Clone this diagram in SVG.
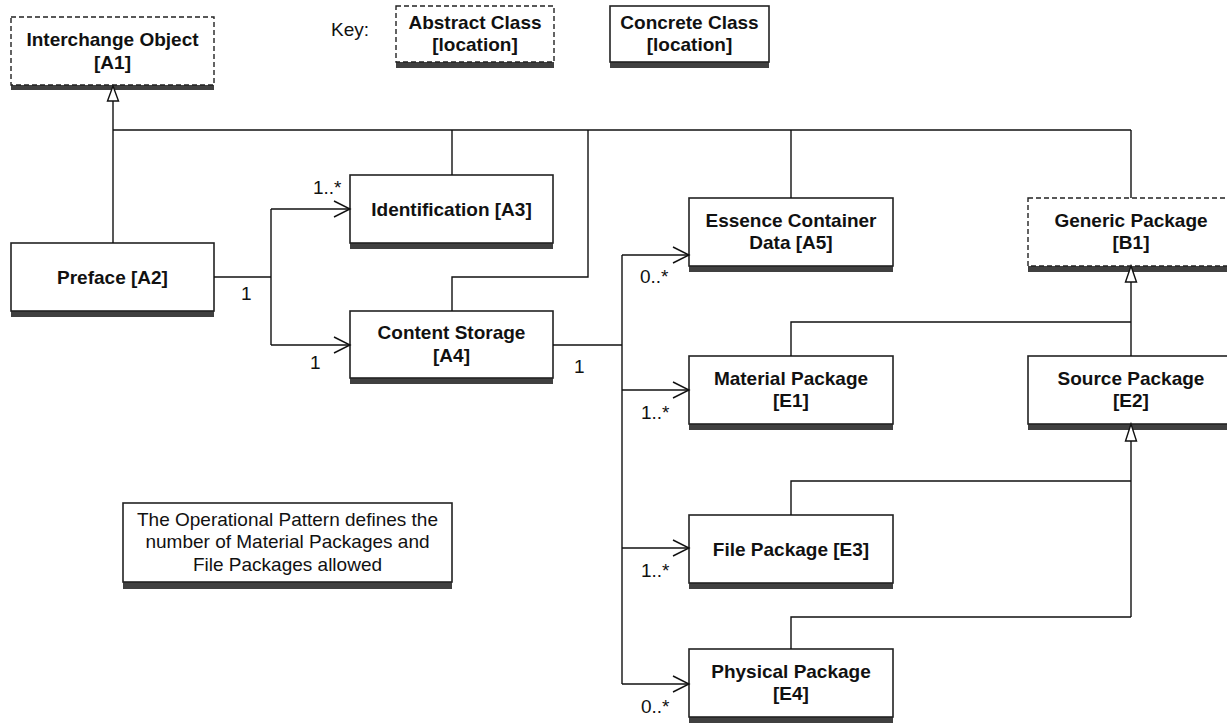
<svg xmlns="http://www.w3.org/2000/svg" width="1227" height="723" viewBox="0 0 1227 723">
<style>
  text { font-family: "Liberation Sans", Arial, sans-serif; font-size: 19px; fill: #111; }
  .b { font-weight: bold; text-anchor: middle; }
  .m { text-anchor: middle; }
  .box { fill: #fff; stroke: #222; stroke-width: 1.6; }
  .abs { fill: #fff; stroke: #222; stroke-width: 1.4; stroke-dasharray: 5 3; }
  .sh { fill: #404040; }
  .ln { fill: none; stroke: #111; stroke-width: 1.4; }
  .tri { fill: #fff; stroke: #111; stroke-width: 1.4; }
</style>
<defs>
  <marker id="open" markerUnits="userSpaceOnUse" markerWidth="20" markerHeight="20" refX="17" refY="9" orient="auto">
    <path d="M1,1 L17,9 L1,17" fill="none" stroke="#111" stroke-width="1.4"/>
  </marker>
</defs>
<rect width="1227" height="723" fill="#fff"/>

<g id="key">
  <text x="331" y="36">Key:</text>
  <rect class="sh" x="396" y="62" width="158" height="6"/>
  <rect class="abs" x="396" y="6" width="158" height="56"/>
  <text class="b" x="475" y="29">Abstract Class</text>
  <text class="b" x="475" y="51">[location]</text>
  <rect class="sh" x="610" y="62" width="159" height="6"/>
  <rect class="box" x="610" y="6" width="159" height="56"/>
  <text class="b" x="689.5" y="29">Concrete Class</text>
  <text class="b" x="689.5" y="51">[location]</text>
</g>

<g id="A1">
  <rect class="sh" x="11" y="85" width="203" height="5"/>
  <rect class="abs" x="11" y="17" width="203" height="68"/>
  <text class="b" x="112.5" y="46">Interchange Object</text>
  <text class="b" x="112.5" y="68.5">[A1]</text>
</g>

<g id="A2">
  <rect class="sh" x="11" y="311" width="203" height="6"/>
  <rect class="box" x="11" y="243" width="203" height="68"/>
  <text class="b" x="112.5" y="283.5">Preface [A2]</text>
</g>

<g id="A3">
  <rect class="sh" x="350" y="243" width="203" height="6"/>
  <rect class="box" x="350" y="175" width="203" height="68"/>
  <text class="b" x="451.5" y="215.5">Identification [A3]</text>
</g>

<g id="A4">
  <rect class="sh" x="350" y="378" width="203" height="6"/>
  <rect class="box" x="350" y="311" width="203" height="67"/>
  <text class="b" x="451.5" y="339">Content Storage</text>
  <text class="b" x="451.5" y="361.5">[A4]</text>
</g>

<g id="A5">
  <rect class="sh" x="689" y="266" width="204" height="6"/>
  <rect class="box" x="689" y="198" width="204" height="68"/>
  <text class="b" x="791" y="226.7">Essence Container</text>
  <text class="b" x="791" y="249.3">Data [A5]</text>
</g>

<g id="B1">
  <rect class="sh" x="1028" y="266" width="206" height="6"/>
  <rect class="abs" x="1028" y="198" width="206" height="68"/>
  <text class="b" x="1131" y="226.7">Generic Package</text>
  <text class="b" x="1131" y="249.3">[B1]</text>
</g>

<g id="E1">
  <rect class="sh" x="689" y="424" width="204" height="6"/>
  <rect class="box" x="689" y="356" width="204" height="68"/>
  <text class="b" x="791" y="384.7">Material Package</text>
  <text class="b" x="791" y="407.3">[E1]</text>
</g>

<g id="E2">
  <rect class="sh" x="1028" y="424" width="206" height="6"/>
  <rect class="box" x="1028" y="356" width="206" height="68"/>
  <text class="b" x="1131" y="384.7">Source Package</text>
  <text class="b" x="1131" y="407.3">[E2]</text>
</g>

<g id="E3">
  <rect class="sh" x="689" y="583" width="204" height="6"/>
  <rect class="box" x="689" y="515" width="204" height="68"/>
  <text class="b" x="791" y="555.5">File Package [E3]</text>
</g>

<g id="E4">
  <rect class="sh" x="689" y="717" width="204" height="6"/>
  <rect class="box" x="689" y="649" width="204" height="68"/>
  <text class="b" x="791" y="677.7">Physical Package</text>
  <text class="b" x="791" y="700.3">[E4]</text>
</g>

<g id="note">
  <rect class="sh" x="123" y="582" width="329" height="7"/>
  <rect class="box" x="123" y="503" width="329" height="79"/>
  <text class="m" x="287.5" y="525.7">The Operational Pattern defines the</text>
  <text class="m" x="287.5" y="548.3">number of Material Packages and</text>
  <text class="m" x="287.5" y="570.7">File Packages allowed</text>
</g>

<g id="connectors">
  <!-- generalization to Interchange Object -->
  <path class="ln" d="M113,243 V101"/>
  <path class="ln" d="M113,130 H1131"/>
  <path class="ln" d="M452,130 V175"/>
  <path class="ln" d="M588,130 V277 H452 V311"/>
  <path class="ln" d="M791,130 V198"/>
  <path class="ln" d="M1131,130 V198"/>
  <polygon class="tri" points="113,86 107.5,101 118.5,101"/>
  <!-- generalization to Generic Package -->
  <path class="ln" d="M1131,356 V282"/>
  <path class="ln" d="M791,356 V322 H1131"/>
  <polygon class="tri" points="1131,266 1125.5,282 1136.5,282"/>
  <!-- generalization to Source Package -->
  <path class="ln" d="M1131,617 V441"/>
  <path class="ln" d="M791,515 V481 H1131"/>
  <path class="ln" d="M791,649 V617 H1131"/>
  <polygon class="tri" points="1131,424 1125.5,441 1136.5,441"/>
  <!-- associations from Preface -->
  <path class="ln" d="M214,277 H271"/>
  <path class="ln" d="M271,209 V345"/>
  <path class="ln" d="M271,209 H350" marker-end="url(#open)"/>
  <path class="ln" d="M271,345 H350" marker-end="url(#open)"/>
  <!-- associations from Content Storage -->
  <path class="ln" d="M553,345 H622"/>
  <path class="ln" d="M622,255 V684"/>
  <path class="ln" d="M622,255 H689" marker-end="url(#open)"/>
  <path class="ln" d="M622,390 H689" marker-end="url(#open)"/>
  <path class="ln" d="M622,548 H689" marker-end="url(#open)"/>
  <path class="ln" d="M622,684 H689" marker-end="url(#open)"/>
  <!-- multiplicities -->
  <text x="241" y="300">1</text>
  <text x="313" y="193.5">1..*</text>
  <text x="310" y="368.5">1</text>
  <text x="574" y="373">1</text>
  <text x="640" y="283">0..*</text>
  <text x="641" y="418.5">1..*</text>
  <text x="641" y="577">1..*</text>
  <text x="641" y="713">0..*</text>
</g>
</svg>
